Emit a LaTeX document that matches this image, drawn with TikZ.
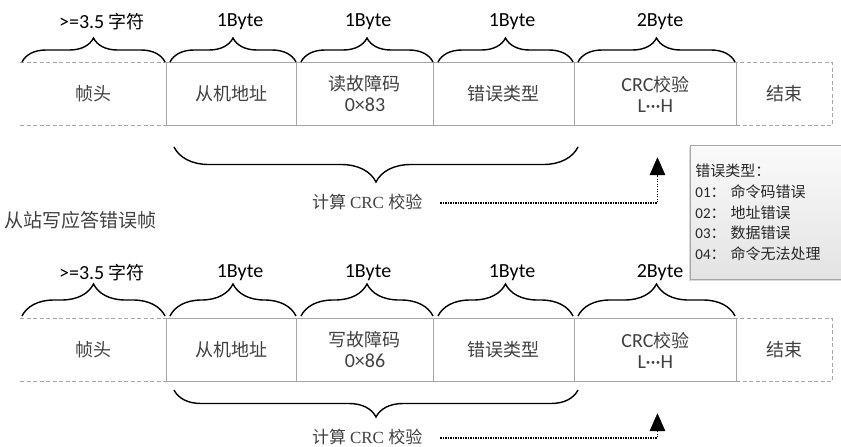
\documentclass[tikz,border=0pt]{standalone}
\usepackage{fontspec}
\setmainfont{Carlito}
\newfontfamily\cjk{Noto Sans CJK SC}
\newfontfamily\lat{Carlito}
\newfontfamily\ser{Liberation Serif}
\usetikzlibrary{decorations.pathreplacing,arrows.meta,shadows}
\definecolor{txt}{HTML}{404040}
\definecolor{bord}{HTML}{A6A6A6}
\tikzset{
  cell/.style={draw=bord, line width=0.9pt, anchor=north west, minimum height=63pt,
    inner sep=0pt, align=center, text=txt, font=\fontsize{18}{24}\selectfont},
  endcell/.style={cell, dashed, dash pattern=on 4pt off 2.5pt},
  headcell/.style={cell, draw=none},
  dashline/.style={draw=bord, line width=0.9pt, dash pattern=on 4pt off 2.5pt},
  topbrace/.style={draw=black, line width=1.4pt, decorate, decoration={brace, amplitude=#1}},
  sizelabel/.style={font=\lat\fontsize{20}{22}\selectfont, text=black, inner sep=0pt},
  calclabel/.style={font=\fontsize{17}{20}\selectfont, text=txt, inner sep=0pt, anchor=west},
  dotline/.style={draw=black, line width=1.2pt, dash pattern=on 1.2pt off 1.3pt},
  tiphead/.style={fill=black, draw=black, line width=0.5pt, line join=miter},
  legendbox/.style={draw=bord, line width=0.8pt, anchor=north west, minimum width=160pt,
    minimum height=134pt, text width=150pt, inner xsep=3pt, align=left,
    top color=white!96!gray, bottom color=gray!22, drop shadow={shadow xshift=-1.5pt, shadow yshift=-2pt, fill=gray!60},
    font=\fontsize{15}{20.7}\selectfont, text=black!85}
}
\newcommand{\lt}[1]{{\lat\fontsize{20}{24}\selectfont #1}}
\begin{document}
\begin{tikzpicture}[x=1pt,y=-1pt]
\useasboundingbox (0,0) rectangle (841,447);
\foreach \r/\oy/\by/\amp/\ly/\code/\num/\bb/\bamp/\cy in
  {a/0/62/24/22/读/83/147/35/202, b/256/316/32/273/写/86/390/27/437}{
  % frame cells
  \node[headcell, minimum width=146pt] (head\r) at (20,{62+\oy}) {\cjk 帧头};
  \draw[dashline] (head\r.north west) -- (head\r.north east);
  \draw[dashline] (head\r.south west) -- (head\r.south east);
  \node[cell, minimum width=130pt] (addr\r) at (166,{62+\oy}) {\cjk 从机地址};
  \node[cell, minimum width=137pt] (code\r) at (296,{62+\oy}) {\cjk \code 故障码\\[-3pt]\lt{0×\num}};
  \node[cell, minimum width=141pt] (type\r) at (433,{62+\oy}) {\cjk 错误类型};
  \node[cell, minimum width=162pt] (crc\r) at (574,{62+\oy}) {\lt{CRC}\cjk 校验\\[-3pt]\lt{L···H}};
  \node[endcell, minimum width=96pt] (end\r) at (736,{62+\oy}) {\cjk 结束};
  % braces above
  \draw[topbrace=\amp] (22,\by) -- (165,\by);
  \draw[topbrace=\amp] (170,\by) -- (296,\by);
  \draw[topbrace=\amp] (301,\by) -- (433,\by);
  \draw[topbrace=\amp] (438,\by) -- (573,\by);
  \draw[topbrace=\amp] (578,\by) -- (735,\by);
  \node[sizelabel] (s1\r) at (102,\ly) {>=3.5 {\cjk\fontsize{18}{20}\selectfont 字符}};
  \node[sizelabel] (s2\r) at (240,\ly) {1Byte};
  \node[sizelabel] (s3\r) at (368,\ly) {1Byte};
  \node[sizelabel] (s4\r) at (512,\ly) {1Byte};
  \node[sizelabel] (s5\r) at (660,\ly) {2Byte};
  % brace below
  \draw[topbrace=\bamp] (578,\bb) -- (174,\bb);
  \node[calclabel] (calc\r) at (312,\cy) {\cjk 计算 \ser CRC \cjk 校验};
  \coordinate (tip\r) at ([xshift=2pt,yshift=-32pt]crc\r.south);
  \coordinate (base\r) at ([yshift=-17pt]tip\r);
  \draw[dotline] ([xshift=18pt,yshift=-1pt]calc\r.east) -| (base\r);
  \filldraw[tiphead] (tip\r) -- ([xshift=-7.5pt]base\r) -- ([xshift=7.5pt]base\r) -- cycle;
}
\node[anchor=west, inner sep=0pt, text=txt, font=\cjk\fontsize{19}{22}\selectfont] (title) at (4,220) {从站写应答错误帧};
\node[legendbox] (legend) at (690,145) {\cjk 错误类型：\\ \lat 01\cjk：\ 命令码错误\\ \lat 02\cjk：\ 地址错误\\ \lat 03\cjk：\ 数据错误\\ \lat 04\cjk：\ 命令无法处理};
\end{tikzpicture}
\end{document}
